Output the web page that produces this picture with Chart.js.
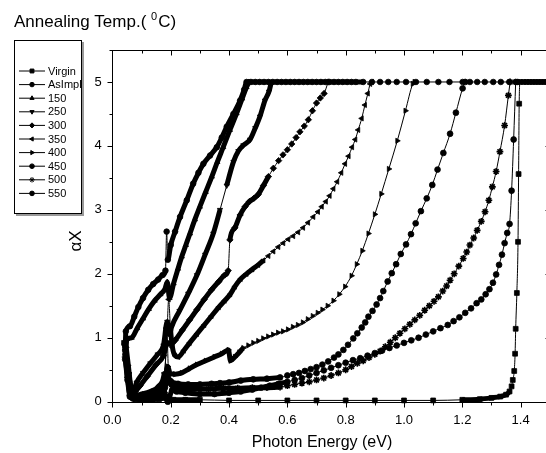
<!DOCTYPE html>
<html>
<head>
<meta charset="utf-8">
<script src="https://cdn.jsdelivr.net/npm/chart.js@4.4.1/dist/chart.umd.min.js"></script>
<style>
  html, body { margin: 0; padding: 0; background: #fff; overflow: hidden; }
  #wrap { width: 546px; height: 453px; overflow: hidden; }
  canvas { display: block; }
</style>
</head>
<body>
<div id="wrap"><canvas id="absChart" width="560" height="453"></canvas></div>
<script>
// series names (annealing temperature)
const seriesNames = ['Virgin', 'AsImpl', '150', '250', '300', '350', '400', '450', '500', '550'];

// tick labels
const xTicks = [0, 0.2, 0.4, 0.6, 0.8, 1.0, 1.2, 1.4];
const yTicks = [0, 1, 2, 3, 4, 5];

// [photon energy (eV), alpha X]
const virgin = [[0.040,0.92],[0.046,0.72],[0.052,0.45],[0.060,0.20],[0.068,0.07],[0.080,0.04],[0.100,0.03],[0.130,0.03],[0.160,0.04],[0.180,0.06],[0.190,0.02],[0.210,0.03],[0.250,0.03],[0.300,0.03],[0.400,0.02],[0.500,0.02],[0.600,0.02],[0.700,0.02],[0.800,0.02],[0.900,0.02],[1.000,0.02],[1.100,0.02],[1.200,0.03],[1.260,0.04],[1.300,0.06],[1.330,0.08],[1.350,0.11],[1.362,0.16],[1.369,0.24],[1.373,0.34],[1.378,0.48],[1.381,0.75],[1.383,1.14],[1.387,1.70],[1.391,2.50],[1.393,3.56],[1.395,4.66],[1.398,5.0],[1.41,5],[1.42,5],[1.43,5],[1.44,5],[1.45,5],[1.46,5],[1.47,5],[1.48,5],[1.49,5],[1.50,5]];
const asImpl = [[0.044,0.80],[0.046,1.10],[0.060,1.18],[0.075,1.33],[0.089,1.48],[0.105,1.62],[0.123,1.75],[0.140,1.84],[0.157,1.91],[0.172,1.98],[0.182,2.05],[0.186,2.66],[0.190,2.22],[0.200,2.45],[0.215,2.66],[0.232,2.89],[0.255,3.15],[0.277,3.41],[0.295,3.58],[0.312,3.72],[0.335,3.85],[0.358,3.98],[0.375,4.13],[0.392,4.30],[0.415,4.50],[0.438,4.71],[0.452,4.88],[0.460,5.0],[0.475,5],[0.49,5],[0.505,5],[0.52,5],[0.535,5],[0.55,5],[0.565,5],[0.58,5],[0.595,5],[0.61,5],[0.625,5],[0.64,5],[0.655,5],[0.67,5],[0.685,5],[0.70,5],[0.715,5],[0.73,5],[0.745,5],[0.76,5],[0.775,5],[0.79,5],[0.805,5],[0.82,5],[0.835,5],[0.86,5],[0.89,5],[0.918,5],[0.946,5],[0.975,5],[1.007,5],[1.041,5],[1.078,5],[1.118,5],[1.156,5],[1.201,5],[1.226,5],[1.251,5],[1.277,5],[1.306,5],[1.332,5],[1.361,5],[1.39,5]];
const t150 = [[0.045,0.78],[0.050,0.98],[0.066,1.00],[0.085,1.15],[0.105,1.30],[0.125,1.45],[0.145,1.58],[0.165,1.68],[0.180,1.76],[0.188,1.87],[0.196,1.62],[0.210,1.85],[0.225,2.08],[0.238,2.27],[0.252,2.45],[0.266,2.63],[0.283,2.85],[0.300,3.05],[0.320,3.28],[0.341,3.52],[0.360,3.75],[0.380,3.98],[0.403,4.25],[0.426,4.51],[0.445,4.74],[0.460,4.92],[0.468,5.0]];
const t250 = [[0.046,0.90],[0.055,0.55],[0.064,0.22],[0.072,0.18],[0.083,0.30],[0.105,0.45],[0.130,0.60],[0.155,0.74],[0.175,0.88],[0.188,1.25],[0.196,1.05],[0.203,1.17],[0.230,1.42],[0.260,1.69],[0.290,1.98],[0.318,2.30],[0.346,2.63],[0.369,3.00],[0.392,3.38],[0.415,3.75],[0.432,3.92],[0.449,4.01],[0.472,4.10],[0.490,4.28],[0.506,4.46],[0.523,4.71],[0.537,4.85],[0.545,5.0]];
const t300 = [[0.046,0.85],[0.056,0.45],[0.066,0.15],[0.078,0.16],[0.095,0.25],[0.120,0.40],[0.150,0.58],[0.175,0.72],[0.188,0.92],[0.200,0.90],[0.215,0.96],[0.240,1.12],[0.265,1.28],[0.290,1.44],[0.315,1.60],[0.340,1.75],[0.365,1.88],[0.385,1.98],[0.397,2.05],[0.403,2.53],[0.420,2.72],[0.438,2.92],[0.455,3.05],[0.470,3.13],[0.485,3.18],[0.500,3.24],[0.518,3.38],[0.535,3.52],[0.552,3.65],[0.570,3.77],[0.585,3.86],[0.600,3.94],[0.615,4.03],[0.630,4.13],[0.643,4.22],[0.658,4.31],[0.672,4.41],[0.686,4.55],[0.700,4.67],[0.713,4.75],[0.726,4.82],[0.740,5.0]];
const t350 = [[0.045,0.82],[0.054,0.50],[0.064,0.18],[0.075,0.10],[0.100,0.12],[0.130,0.16],[0.160,0.25],[0.178,0.45],[0.186,0.90],[0.193,1.60],[0.199,1.15],[0.206,0.85],[0.215,0.72],[0.226,0.70],[0.245,0.80],[0.265,0.92],[0.290,1.06],[0.315,1.20],[0.340,1.34],[0.365,1.48],[0.385,1.58],[0.404,1.68],[0.420,1.80],[0.440,1.92],[0.460,2.00],[0.480,2.07],[0.500,2.14],[0.518,2.21],[0.535,2.28],[0.552,2.35],[0.569,2.42],[0.586,2.48],[0.603,2.54],[0.620,2.59],[0.637,2.65],[0.654,2.72],[0.671,2.80],[0.689,2.89],[0.705,2.97],[0.718,3.05],[0.732,3.13],[0.745,3.22],[0.758,3.33],[0.771,3.44],[0.785,3.58],[0.798,3.72],[0.810,3.84],[0.822,3.98],[0.833,4.10],[0.843,4.25],[0.855,4.43],[0.866,4.64],[0.876,4.82],[0.884,4.97],[0.890,5.0]];
const t400 = [[0.045,0.76],[0.054,0.45],[0.063,0.16],[0.075,0.08],[0.100,0.09],[0.130,0.12],[0.160,0.20],[0.180,0.35],[0.190,0.55],[0.198,0.44],[0.215,0.43],[0.238,0.45],[0.265,0.52],[0.290,0.58],[0.320,0.64],[0.350,0.70],[0.375,0.75],[0.398,0.81],[0.405,0.64],[0.420,0.70],[0.435,0.77],[0.449,0.84],[0.466,0.88],[0.483,0.92],[0.500,0.95],[0.517,0.99],[0.534,1.02],[0.551,1.05],[0.568,1.08],[0.585,1.10],[0.602,1.13],[0.619,1.17],[0.636,1.20],[0.653,1.24],[0.670,1.29],[0.687,1.34],[0.704,1.39],[0.720,1.44],[0.738,1.50],[0.758,1.58],[0.778,1.68],[0.798,1.80],[0.820,1.97],[0.838,2.15],[0.857,2.36],[0.878,2.63],[0.900,2.93],[0.922,3.25],[0.948,3.64],[0.977,4.08],[1.005,4.55],[1.030,4.97],[1.036,5.0]];
const t450 = [[0.045,0.74],[0.054,0.40],[0.062,0.12],[0.075,0.06],[0.100,0.07],[0.130,0.09],[0.160,0.14],[0.180,0.22],[0.190,0.38],[0.200,0.32],[0.225,0.28],[0.260,0.27],[0.300,0.27],[0.340,0.28],[0.369,0.29],[0.400,0.30],[0.440,0.33],[0.483,0.35],[0.530,0.36],[0.575,0.38],[0.600,0.41],[0.620,0.43],[0.640,0.45],[0.660,0.48],[0.680,0.51],[0.700,0.54],[0.720,0.58],[0.740,0.63],[0.760,0.69],[0.775,0.74],[0.792,0.81],[0.808,0.89],[0.826,0.99],[0.840,1.07],[0.855,1.16],[0.867,1.24],[0.878,1.33],[0.892,1.42],[0.906,1.52],[0.918,1.62],[0.929,1.73],[0.944,1.88],[0.958,2.01],[0.973,2.15],[0.989,2.31],[1.007,2.46],[1.024,2.62],[1.040,2.79],[1.058,2.98],[1.078,3.18],[1.097,3.39],[1.115,3.63],[1.135,3.89],[1.158,4.19],[1.178,4.52],[1.201,4.90],[1.210,5.0]];
const t500 = [[0.044,0.70],[0.052,0.38],[0.060,0.10],[0.072,0.05],[0.100,0.05],[0.130,0.06],[0.160,0.09],[0.178,0.14],[0.186,1.15],[0.194,0.32],[0.210,0.24],[0.240,0.21],[0.280,0.20],[0.330,0.20],[0.380,0.21],[0.430,0.21],[0.480,0.22],[0.530,0.22],[0.575,0.23],[0.600,0.25],[0.625,0.27],[0.650,0.29],[0.675,0.31],[0.700,0.34],[0.725,0.37],[0.750,0.41],[0.775,0.45],[0.800,0.50],[0.820,0.55],[0.840,0.60],[0.860,0.64],[0.880,0.69],[0.900,0.74],[0.918,0.79],[0.936,0.86],[0.953,0.93],[0.970,1.00],[0.986,1.07],[1.003,1.14],[1.020,1.21],[1.037,1.28],[1.054,1.35],[1.071,1.43],[1.087,1.50],[1.103,1.57],[1.118,1.64],[1.133,1.73],[1.146,1.81],[1.158,1.90],[1.172,2.00],[1.188,2.12],[1.203,2.24],[1.215,2.34],[1.226,2.45],[1.239,2.56],[1.251,2.68],[1.265,2.82],[1.278,2.97],[1.291,3.15],[1.303,3.36],[1.316,3.60],[1.329,3.91],[1.345,4.32],[1.358,4.79],[1.364,5.0]];
const t550 = [[0.044,0.66],[0.052,0.34],[0.060,0.08],[0.072,0.05],[0.100,0.06],[0.130,0.08],[0.160,0.14],[0.175,0.19],[0.190,0.00],[0.205,0.18],[0.220,0.16],[0.250,0.14],[0.300,0.12],[0.350,0.12],[0.400,0.14],[0.440,0.16],[0.480,0.19],[0.510,0.22],[0.540,0.25],[0.570,0.28],[0.600,0.31],[0.625,0.34],[0.650,0.37],[0.675,0.41],[0.700,0.45],[0.725,0.49],[0.750,0.53],[0.775,0.57],[0.800,0.61],[0.825,0.65],[0.850,0.68],[0.875,0.72],[0.900,0.76],[0.925,0.80],[0.950,0.84],[0.975,0.88],[1.000,0.92],[1.025,0.96],[1.050,1.00],[1.075,1.05],[1.100,1.10],[1.125,1.15],[1.150,1.20],[1.170,1.26],[1.190,1.32],[1.210,1.39],[1.230,1.46],[1.249,1.54],[1.265,1.60],[1.280,1.68],[1.293,1.76],[1.305,1.86],[1.316,1.99],[1.326,2.14],[1.336,2.30],[1.345,2.48],[1.354,2.64],[1.362,2.78],[1.369,3.30],[1.376,4.10],[1.383,5.0]];

const allSeries = [virgin, asImpl, t150, t250, t300, t350, t400, t450, t500, t550];

// marker styles, same order as seriesNames
const markerStyle = ['rect', 'circle', 'triangle', 'triangle', 'rectRot', 'triangle', 'triangle', 'circle', 'star', 'circle'];
const markerRotation = [0, 0, 0, 180, 0, -90, 90, 0, 0, 0];
const markerRadius = [3.4, 2.8, 3, 3, 3.2, 3, 3, 2.9, 3.4, 2.9];
// densely sampled part of each curve is drawn as a thick band
const thickUntil = [1.365, 0.87, 0.47, 0.55, 0.55, 0.52, 0.45, 0.58, 0.58, 0.6];

const FONT = "'Liberation Sans', Arial, Helvetica, sans-serif";
Chart.defaults.font.family = FONT;
Chart.defaults.color = '#000';

const datasets = allSeries.map((pts, i) => ({
  label: seriesNames[i],
  data: pts.map(([x, y]) => ({ x, y })),
  borderColor: '#000',
  backgroundColor: '#000',
  borderWidth: 1,
  pointStyle: markerStyle[i],
  pointRotation: markerRotation[i],
  pointRadius: markerRadius[i],
  pointBorderWidth: markerStyle[i] === 'star' ? 1.6 : 0.8,
  pointBorderColor: '#000',
  pointBackgroundColor: '#000',
  cubicInterpolationMode: 'monotone',
  borderJoinStyle: 'round',
  clip: false,
  segment: {
    borderWidth: ctx => {
      const len = Math.hypot(ctx.p1.x - ctx.p0.x, ctx.p1.y - ctx.p0.y);
      return (ctx.p1.parsed.x <= thickUntil[i] && len < 25) ? 5 : 1;
    }
  }
}));

function strokeLine(ctx, x1, y1, x2, y2) {
  ctx.beginPath();
  ctx.moveTo(x1, y1);
  ctx.lineTo(x2, y2);
  ctx.stroke();
}

// frame with ticks: outward on bottom/left, inward on top/right
const framePlugin = {
  id: 'frame',
  afterDraw(chart) {
    const { ctx, chartArea: a, scales: { x, y } } = chart;
    ctx.save();
    ctx.strokeStyle = '#000';
    ctx.lineWidth = 1;
    ctx.strokeRect(Math.round(a.left) + 0.5, Math.round(a.top) + 0.5,
      Math.round(a.right - a.left), Math.round(a.bottom - a.top));
    const bottom = Math.round(a.bottom) + 0.5, top = Math.round(a.top) + 0.5;
    for (let k = 0; k <= 15; k++) {
      const px = Math.round(x.getPixelForValue(k / 10)) + 0.5;
      const len = k % 2 === 0 ? 5 : 3;
      strokeLine(ctx, px, bottom, px, bottom + len);
      strokeLine(ctx, px, top, px, top + len);
    }
    const left = Math.round(a.left) + 0.5, right = Math.round(a.right) + 0.5;
    for (let k = 0; k <= 11; k++) {
      const py = Math.round(y.getPixelForValue(k / 2)) + 0.5;
      const len = k % 2 === 0 ? 5 : 3;
      strokeLine(ctx, left - len, py, left, py);
      strokeLine(ctx, right - len, py, right, py);
    }
    ctx.restore();
  }
};

// legend box, header text and axis titles
const annotatePlugin = {
  id: 'annotate',
  afterDraw(chart) {
    const ctx = chart.ctx;
    ctx.save();
    ctx.fillStyle = '#000';
    ctx.strokeStyle = '#000';

    // header: Annealing Temp.( 0C) with superscript
    ctx.textBaseline = 'alphabetic';
    ctx.textAlign = 'left';
    ctx.font = '17px ' + FONT;
    let tx = 14;
    const head = 'Annealing Temp.( ';
    ctx.fillText(head, tx, 27);
    tx += ctx.measureText(head).width;
    ctx.font = '11px ' + FONT;
    ctx.fillText('0', tx, 20);
    tx += ctx.measureText('0').width + 1;
    ctx.font = '17px ' + FONT;
    ctx.fillText('C)', tx, 27);

    // legend
    ctx.fillStyle = '#999';
    ctx.fillRect(16, 214, 67, 2);
    ctx.fillRect(82, 42, 2, 174);
    ctx.fillStyle = '#fff';
    ctx.fillRect(14.5, 40.5, 67, 173);
    ctx.lineWidth = 1;
    ctx.strokeRect(14.5, 40.5, 67, 173);
    ctx.fillStyle = '#000';
    ctx.font = '11px ' + FONT;
    ctx.textBaseline = 'middle';
    seriesNames.forEach((name, i) => {
      const ry = 71 + i * 13.6;
      strokeLine(ctx, 19, ry, 45, ry);
      Chart.helpers.drawPoint(ctx, {
        pointStyle: markerStyle[i],
        rotation: markerRotation[i],
        radius: markerRadius[i] * 0.8,
        borderWidth: markerStyle[i] === 'star' ? 1.4 : 0.8
      }, 32, ry);
      ctx.fillText(name, 48, ry + 0.5);
    });

    // axis titles
    ctx.font = '16px ' + FONT;
    ctx.textAlign = 'center';
    ctx.textBaseline = 'middle';
    ctx.fillText('Photon Energy (eV)', 322, 443);
    ctx.save();
    ctx.translate(76, 241);
    ctx.rotate(-Math.PI / 2);
    ctx.font = '17px ' + FONT;
    ctx.fillText('\u03B1X', 0, 0);
    ctx.restore();

    ctx.restore();
  }
};

new Chart(document.getElementById('absChart'), {
  type: 'line',
  data: { datasets },
  options: {
    responsive: false,
    animation: false,
    devicePixelRatio: 1,
    layout: { padding: { left: 0, right: 10.2, top: 50, bottom: 0 } },
    plugins: {
      legend: { display: false },
      title: { display: false },
      tooltip: { enabled: false }
    },
    scales: {
      x: {
        type: 'linear',
        min: 0,
        max: 1.5,
        grid: { display: false, drawTicks: false },
        border: { display: false },
        afterBuildTicks: scale => { scale.ticks = xTicks.map(v => ({ value: v })); },
        afterFit: scale => { scale.height = 51.3; },
        ticks: {
          padding: 10.5,
          font: { size: 13 },
          color: '#000',
          maxRotation: 0,
          callback: v => v.toFixed(1)
        }
      },
      y: {
        type: 'linear',
        min: 0,
        max: 5.5,
        grid: { display: false, drawTicks: false },
        border: { display: false },
        afterBuildTicks: scale => { scale.ticks = yTicks.map(v => ({ value: v })); },
        afterFit: scale => { scale.width = 112.4; },
        ticks: {
          padding: 10.7,
          font: { size: 13 },
          color: '#000',
          callback: v => String(v)
        }
      }
    }
  },
  plugins: [framePlugin, annotatePlugin]
});
</script>
</body>
</html>
